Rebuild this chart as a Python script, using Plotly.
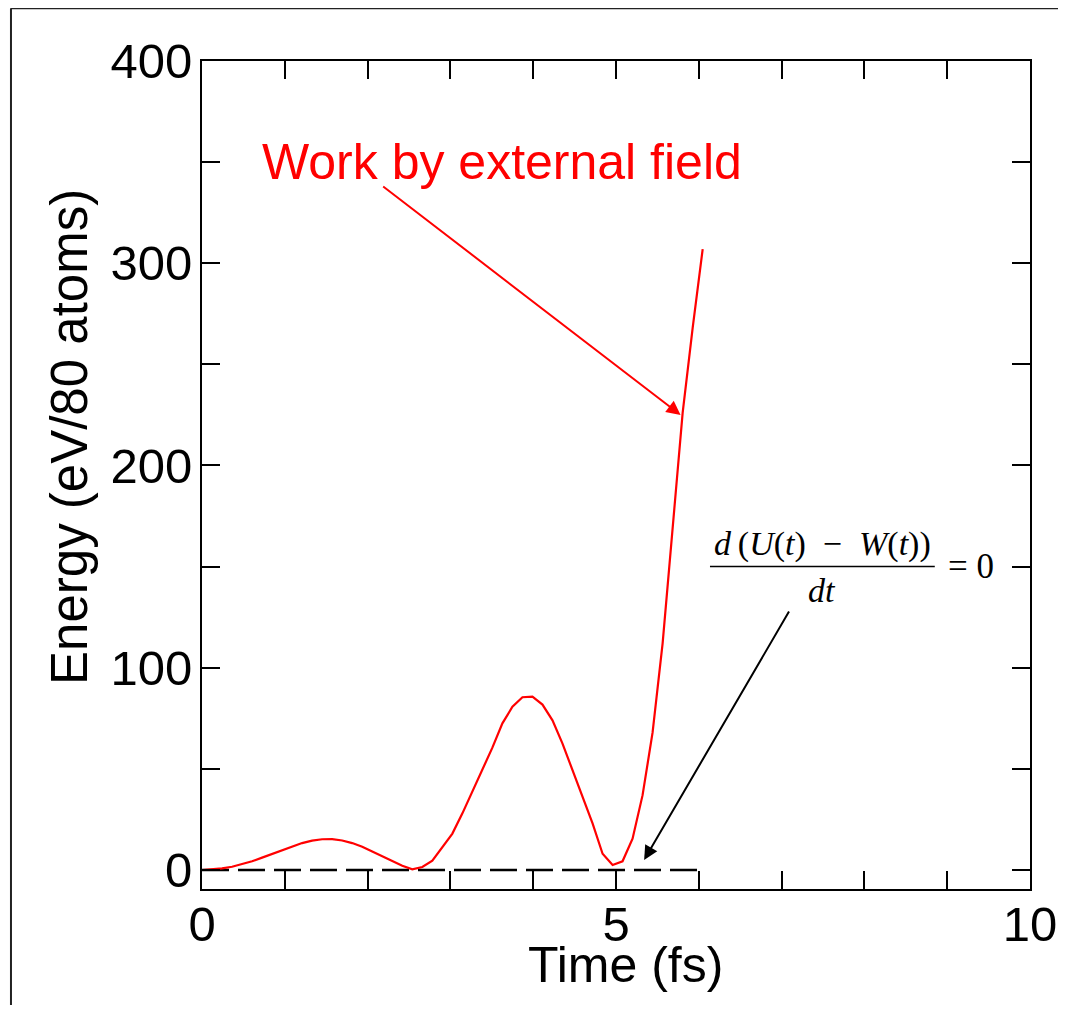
import plotly.graph_objects as go

# ---- data ----
time_fs = [0.000, 0.121, 0.242, 0.363, 0.484, 0.605, 0.726, 0.847, 0.968, 1.088,
           1.209, 1.330, 1.451, 1.572, 1.693, 1.814, 1.935, 2.056, 2.177, 2.298,
           2.419, 2.540, 2.661, 2.782, 2.903, 3.024, 3.145, 3.265, 3.386, 3.507,
           3.628, 3.749, 3.870, 3.991, 4.112, 4.233, 4.354, 4.475, 4.596, 4.717,
           4.838, 4.959, 5.079, 5.200, 5.321, 5.442, 5.563, 5.684, 5.805, 5.926,
           6.047]
work_external = [0.0, 0.3, 0.8, 1.6, 2.8, 4.3, 6.1, 8.0, 9.9, 11.7,
                 13.3, 14.5, 15.2, 15.3, 14.6, 13.3, 11.5, 9.2, 6.8, 4.3,
                 2.1, 0.3, 1.5, 4.6, 11.0, 18.0, 28.0, 38.5, 49.5, 60.5,
                 72.5, 80.7, 85.4, 85.7, 81.8, 74.0, 62.5, 49.5, 36.5, 23.0,
                 8.0, 2.5, 4.3, 15.5, 37.0, 68.0, 112.0, 170.0, 226.0, 268.0,
                 307.0]
conservation_time = [0.000, 6.047]
conservation_value = [0.0, 0.0]

x_tick_vals = [0, 1, 2, 3, 4, 5, 6, 7, 8, 9, 10]
x_tick_text = ["0", "", "", "", "", "5", "", "", "", "", "10"]
y_tick_vals = [0, 50, 100, 150, 200, 250, 300, 350, 400]
y_tick_text = ["0", "", "100", "", "200", "", "300", "", "400"]

FONT = "Liberation Sans, Arial, Helvetica, sans-serif"
SERIF = "Liberation Serif, Times New Roman, serif"

fig = go.Figure()
fig.add_trace(go.Scatter(x=conservation_time, y=conservation_value, mode="lines",
                         line=dict(color="black", width=2.3, dash="27px,9px"),
                         showlegend=False, hoverinfo="skip"))
fig.add_trace(go.Scatter(x=time_fs, y=work_external, mode="lines",
                         line=dict(color="#ff0000", width=2.2),
                         showlegend=False))

axis_common = dict(showline=True, linewidth=2, linecolor="black", mirror="ticks",
                   ticks="inside", ticklen=18, tickwidth=2, tickcolor="black",
                   showgrid=False, zeroline=False, automargin=False,
                   tickfont=dict(family=FONT, size=49, color="black"))

fig.update_xaxes(range=[0, 10], tickmode="array", tickvals=x_tick_vals,
                 ticktext=x_tick_text, ticklabelstandoff=-9,
                 **axis_common)
fig.update_yaxes(range=[-9.4, 400], tickmode="array", tickvals=y_tick_vals,
                 ticktext=y_tick_text, ticklabelstandoff=-2,
                 **axis_common)

annotations = [
    dict(x=0.5109, y=-0.0918, xref="paper", yref="paper", text="Time (fs)",
         showarrow=False, xanchor="center", yanchor="middle",
         font=dict(family=FONT, size=50, color="black")),
    dict(x=-0.1594, y=0.546, xref="paper", yref="paper", text="Energy (eV/80 atoms)",
         textangle=-90, showarrow=False, xanchor="center", yanchor="middle",
         font=dict(family=FONT, size=51, color="black")),
    dict(x=3.62, y=350, xref="x", yref="y", text="Work by external field",
         showarrow=False, font=dict(family=FONT, size=50, color="#ff0000")),
    dict(x=5.78, y=225, xref="x", yref="y", ax=2.17, ay=338.5, axref="x", ayref="y",
         text="", showarrow=True, arrowhead=2, arrowsize=1.4, arrowwidth=2,
         arrowcolor="#ff0000"),
    dict(x=5.34, y=5, xref="x", yref="y", ax=7.10, ay=128.5, axref="x", ayref="y",
         text="", showarrow=True, arrowhead=2, arrowsize=1.4, arrowwidth=2,
         arrowcolor="black"),
    dict(x=7.49, y=161, xref="x", yref="y",
         text="<i>d</i>\u2009(<i>U</i>(<i>t</i>)\u2002\u2212\u2002<i>W</i>(<i>t</i>))",
         showarrow=False, font=dict(family=SERIF, size=34, color="black")),
    dict(x=7.49, y=138, xref="x", yref="y", text="<i>dt</i>",
         showarrow=False, font=dict(family=SERIF, size=34, color="black")),
    dict(x=9.287, y=150, xref="x", yref="y", text="= 0",
         showarrow=False, font=dict(family=SERIF, size=35, color="black")),
]

shapes = [
    # fraction bar
    dict(type="line", xref="x", yref="y", x0=6.135, x1=8.85, y0=150, y1=150,
         line=dict(color="black", width=1.5)),
    # outer frame remnants of the original figure
    dict(type="line", xref="paper", yref="paper", x0=-0.2307, x1=1.06, y0=1.0636, y1=1.0636,
         line=dict(color="#222222", width=2)),
    dict(type="line", xref="paper", yref="paper", x0=-0.2307, x1=-0.2307, y0=1.0636, y1=-0.2,
         line=dict(color="#222222", width=2)),
]

fig.update_layout(
    width=1050, height=997,
    margin=dict(l=194, r=28, t=53, b=116),
    paper_bgcolor="white", plot_bgcolor="white",
    annotations=annotations, shapes=shapes,
    showlegend=False,
)

fig.write_html("out.html")
